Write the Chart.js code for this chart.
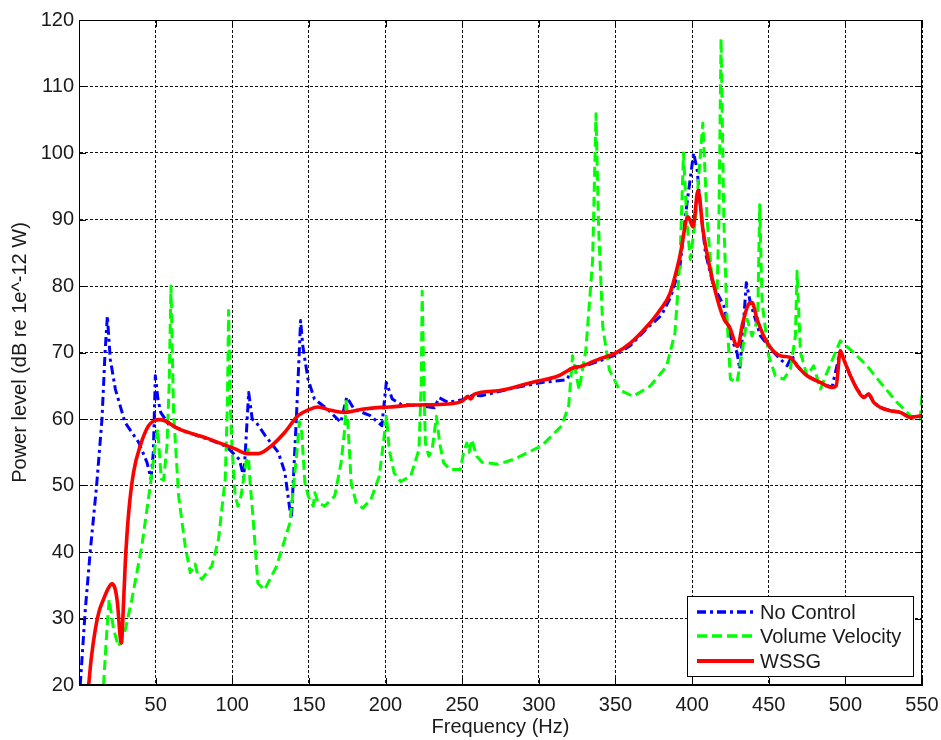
<!DOCTYPE html>
<html>
<head>
<meta charset="utf-8">
<script src="https://cdn.jsdelivr.net/npm/chart.js@4"></script>
<style>
html,body{margin:0;padding:0;background:#fff;}
#wrap{width:941px;height:740px;position:relative;}
</style>
</head>
<body>
<div id="wrap"><canvas id="c" width="941" height="740"></canvas></div>
<script>
// ---- data ----
const xTicks = [0,50,100,150,200,250,300,350,400,450,500,550];
const yTicks = [20,30,40,50,60,70,80,90,100,110,120];
const seriesNames = ["No Control","Volume Velocity","WSSG"];

const ncFreq = [0.8,4,7.3,11.5,15,17,18.5,20.4,23.7,30,38.9,44.3,47,48.5,49.8,51.5,53.3,58.5,69.7,85,96,104.7,107.5,109,110.7,113,115.6,121.5,130,134.3,137.5,138.6,141.8,144.6,146,149.4,153.6,162,170.8,174.7,179.4,190,197.6,200.5,204.4,210,223,231.8,235,240.6,250,253.7,257,262.5,284.4,302,318.4,321.7,328,338,350,360,370,380,386,392,396.7,401,403.3,405.4,408.7,414,420.7,425,429.3,431.1,433.7,435.4,438,444.6,453.3,462,465.2,468.5,475,483.7,491.3,496.7,498.9,503.3,507.6,512,515.2,518.5,522.8,529.3,535.9,542.4,550];
const ncLevel = [20,31,40,50,60,70,75.5,69,64.5,59.5,56.5,53.5,51,55,66.5,63,61,59.2,58.1,56.9,55.9,53.9,51.2,57,64,60,59.5,57.5,55,52,46.5,45,60,74.8,71,66,63,61.5,59.5,63.3,61.5,60.5,59,65.5,63,62.2,62,61.7,63.2,62.5,62.9,63.2,63.6,63.5,64.7,65.5,65.9,67.5,67.8,68.6,69.6,71.1,73.5,75.6,78.3,82.8,92.5,100,97.5,92,85,80,77,72.5,70,67.5,75,80.5,77.5,72.5,70,68,69.5,68,66.5,65.5,64.75,70.25,69,66.5,64.5,63.25,63.75,62.5,61.75,61.25,61,60.25,60.5];

const vvFreq = [16,18.2,19.7,22.6,25.8,30.2,34.5,41,46.5,49.7,51.3,53.7,55.2,57.4,58.8,60,61.7,65,69.3,72.6,75.8,77.5,80.2,86.7,91,95.4,96.8,97.6,98.7,99.8,101.9,103.7,105.8,108,110.2,111.8,113.5,116.7,121,128.8,137.5,141.9,143.8,145.3,147.4,149.6,152.8,153.9,156,160.3,166.8,171,173.3,174.4,175.4,177.6,180.8,185.1,190.5,195.9,199.1,200.6,202.4,205.6,209.9,216.4,221.8,223.3,223.9,225,226,228.2,230.4,233.2,235.3,237.9,242.2,248.7,250.9,253,254.5,256.2,259.5,263,273.5,284.4,302,315,319.5,322,326.3,330.7,335.1,337.3,339,341.7,346,352.6,361.4,372.4,383.3,388.8,392.1,394.4,396.5,398.8,402.2,404.5,407,409.8,413,416.3,417.5,418.9,420.7,422.8,425,429.3,432.6,435.9,439.1,442.8,444.1,445.7,450,454.3,459.8,464.1,467.4,468.5,470.7,475,479.3,483.7,488,496.7,505.4,514.1,522.8,533.7,544.6,548.9,550];
const vvLevel = [20,28.3,32.9,28.3,25.8,28.3,32.9,40.9,50,56,58.5,51,50.8,56,65,80,61,48.4,40.9,36.9,38.2,36.5,35.9,37.9,41.9,51,62,76.3,62,56,48.4,46.9,48.5,52,55.4,50,45.3,35.3,34.3,37.8,44.3,54.4,59.6,58,50.4,48.4,46.9,48.9,47.4,46.9,48.4,53.4,58.4,62.9,59.4,50.4,47.4,46.6,47.9,51.4,57.4,60.4,55.4,51.9,50.6,51.4,55.4,65.4,79.2,65.4,56.4,54.4,55.4,60.4,56.4,53.4,52.4,52.4,54.9,56.4,55,56.9,54.4,53.5,53.2,54,56,59,62,69.5,64.4,70.4,83.9,105.9,88.9,73.9,67.4,64.4,63.4,64.9,67.9,72.9,83.9,100,90,84,90,97,104.5,90,81,79,90,117.2,90,75,66,65.5,70,75,72.5,75,92.2,77.5,69.5,66.5,66,67.5,72.5,82.2,70,66.5,68,64.5,67,71.75,70,68,65.5,62.5,60,60,63.5];

const wsFreq = [6.3,8,10.6,13,16,19,21.5,23.5,25,27.6,29,30.2,32.4,35.6,40,45.4,49.7,52,56.3,65,82.4,101.9,110,117.2,125.7,134.3,142.9,150,155.8,164.4,173,185.8,196.7,203,218.6,240.6,250.4,253.7,255.5,258,273.5,295.4,313,322.8,327.4,338.1,350,359.7,370.5,379.1,385.6,392,397.4,400.6,403.9,407.1,411.4,417.9,421.1,424.3,429.7,433,437.3,439.1,442.4,448.9,457.6,464.1,468.5,475,483.7,491.3,494,496.7,498.9,503.3,507.6,512,515.2,518.5,522.8,529.3,535.9,542.4,550];
const wsLevel = [20,24,28.3,31,32.9,34.5,35.2,34.5,32.5,26.3,32,38.4,45.9,52,56,59,59.8,59.9,59.7,58.5,57.2,55.5,54.8,54.8,56,58,60.5,61.4,61.8,61.3,61,61.5,61.75,61.8,62.1,62.25,62.75,63.4,63,63.75,64.25,65.5,66.5,67.75,67.9,68.9,69.9,71.4,73.9,76.4,78.9,84.4,90.4,88.9,94.4,88.4,82.9,76.9,74.9,73.9,70.9,74.4,77.4,77.5,75,71.5,69.5,69.25,68,66.5,65.5,64.75,65,70.25,69,66.5,64.5,63.25,63.75,62.5,61.75,61.25,61,60.25,60.5];

function pts(fx, fy){ return fx.map((f,i)=>({x:f, y:fy[i]})); }

const FONT = "'Liberation Sans', Arial, sans-serif";
const TXT = '#1a1a1a';
const FS = 20;

const styles = [
  {color:'#0000ff', dash:[9,4,3,4], width:3},
  {color:'#00ff00', dash:[10,5], width:3},
  {color:'#ff0000', dash:[], width:3.6}
];

const frame = {
  id:'frame',
  afterDraw(chart){
    const {ctx, chartArea:a, scales} = chart;
    ctx.save();
    ctx.strokeStyle = '#000';
    ctx.lineWidth = 1;
    ctx.setLineDash([]);
    ctx.strokeRect(a.left+0.5, a.top+0.5, a.right-a.left-1, a.bottom-a.top-1);
    const L = 7;
    ctx.beginPath();
    xTicks.forEach(v=>{
      const px = Math.round(scales.x.getPixelForValue(v))+0.5;
      ctx.moveTo(px, a.bottom); ctx.lineTo(px, a.bottom-L);
      ctx.moveTo(px, a.top); ctx.lineTo(px, a.top+L);
    });
    yTicks.forEach(v=>{
      const py = Math.round(scales.y.getPixelForValue(v))+0.5;
      ctx.moveTo(a.left, py); ctx.lineTo(a.left+L, py);
      ctx.moveTo(a.right, py); ctx.lineTo(a.right-L, py);
    });
    ctx.stroke();
    // legend box inside plot
    const bx = 687, by = 596, bw = 226, bh = 80;
    ctx.fillStyle = '#fff';
    ctx.fillRect(bx, by, bw, bh);
    ctx.strokeRect(bx+0.5, by+0.5, bw, bh);
    const rows = [612, 636, 661];
    ctx.font = FS + 'px ' + FONT;
    ctx.textBaseline = 'middle';
    ctx.textAlign = 'left';
    chart.data.datasets.forEach((ds,i)=>{
      const st = styles[i];
      ctx.beginPath();
      ctx.strokeStyle = st.color;
      ctx.lineWidth = st.width + 0.5;
      ctx.setLineDash(st.dash);
      ctx.moveTo(697, rows[i]); ctx.lineTo(754, rows[i]);
      ctx.stroke();
      ctx.setLineDash([]);
      ctx.fillStyle = TXT;
      ctx.fillText(ds.label, 760, rows[i]+1);
    });
    ctx.restore();
  }
};

const datasets = [
  {label:seriesNames[0], data:pts(ncFreq,ncLevel), borderColor:styles[0].color, borderDash:styles[0].dash, borderWidth:styles[0].width, order:2},
  {label:seriesNames[1], data:pts(vvFreq,vvLevel), borderColor:styles[1].color, borderDash:styles[1].dash, borderWidth:styles[1].width, order:1},
  {label:seriesNames[2], data:pts(wsFreq,wsLevel), borderColor:styles[2].color, borderDash:styles[2].dash, borderWidth:styles[2].width, order:0, cubicInterpolationMode:'monotone'}
];
datasets.forEach(d=>{ d.pointRadius=0; d.fill=false; d.tension=0; d.borderJoinStyle='round'; });

new Chart(document.getElementById('c'), {
  type:'line',
  data:{datasets},
  options:{
    responsive:false,
    animation:false,
    layout:{padding:{left:0, right:19, top:20, bottom:0}},
    plugins:{legend:{display:false}, tooltip:{enabled:false}},
    scales:{
      x:{
        type:'linear', min:0, max:550,
        afterBuildTicks(s){ s.ticks = xTicks.map(v=>({value:v})); },
        afterFit(s){ s.height = 55; s.paddingLeft = 0; s.paddingRight = 0; },
        ticks:{color:TXT, font:{family:FONT, size:FS}, padding:8, maxRotation:0,
          callback:(v)=> v===0 ? '' : String(v)},
        grid:{color:'#111', lineWidth:1, drawTicks:false},
        border:{display:true, color:'#000', dash:[3,2]},
        title:{display:true, text:'Frequency (Hz)', color:TXT, font:{family:FONT, size:FS}, padding:{top:0,bottom:1}}
      },
      y:{
        type:'linear', min:20, max:120,
        afterBuildTicks(s){ s.ticks = yTicks.map(v=>({value:v})); },
        afterFit(s){ s.width = 79; s.paddingTop = 0; s.paddingBottom = 0; },
        ticks:{color:TXT, font:{family:FONT, size:FS}, padding:5},
        grid:{color:'#111', lineWidth:1, drawTicks:false},
        border:{display:true, color:'#000', dash:[3,2]},
        title:{display:true, text:'Power level (dB re 1e^-12 W)', color:TXT, font:{family:FONT, size:FS}, padding:{top:8,bottom:0}}
      }
    }
  },
  plugins:[frame]
});
</script>
</body>
</html>
